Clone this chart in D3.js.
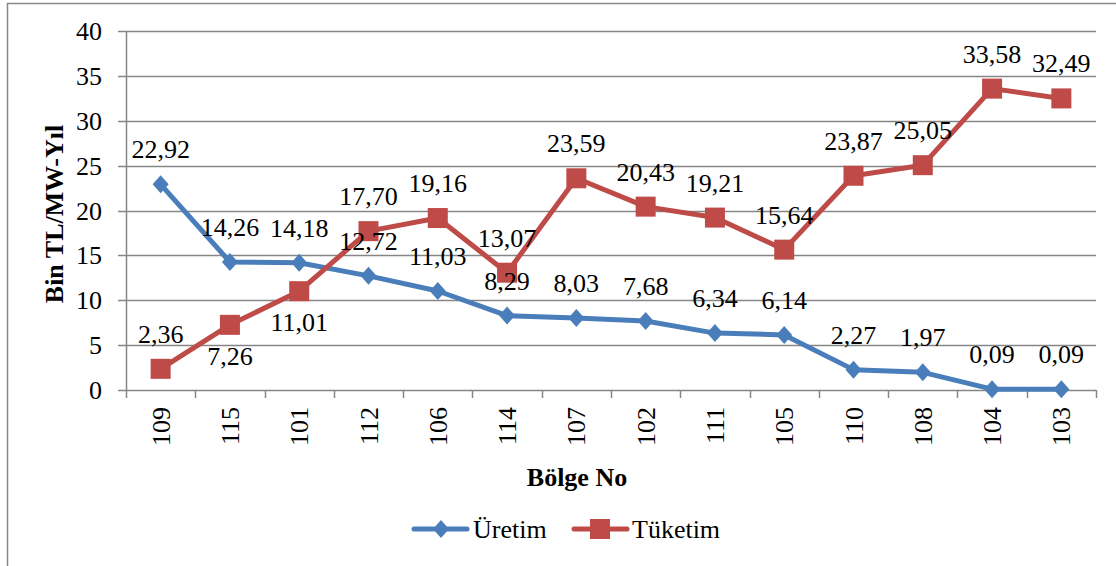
<!DOCTYPE html>
<html><head><meta charset="utf-8">
<script src="https://cdn.jsdelivr.net/npm/d3@7"></script>
<style>body{margin:0;background:#fff}svg{display:block}</style>
</head><body><svg id="c" width="1116" height="566"></svg>
<script>
const categories = ["109","115","101","112","106","114","107","102","111","105","110","108","104","103"];
const uretim = [22.92,14.26,14.18,12.72,11.03,8.29,8.03,7.68,6.34,6.14,2.27,1.97,0.09,0.09];
const tuketim = [2.36,7.26,11.01,17.70,19.16,13.07,23.59,20.43,19.21,15.64,23.87,25.05,33.58,32.49];
const tuketimBelow = ["115","101"];
const yTicks = [0,5,10,15,20,25,30,35,40];
const seriesNames = ["Üretim","Tüketim"];

const svg = d3.select("#c");
const L=126, R=1096, T=31, B=390;
const blue="#4A7EBB", red="#BE4B48";
const FS = 26;

function txt(px,py,s,o={}){
  const t = svg.append("text")
    .attr("text-anchor",o.anchor||"middle")
    .style("font-family","Liberation Serif")
    .style("font-size",(o.size||FS)+"px")
    .style("fill","#000")
    .text(s);
  if(o.bold) t.style("font-weight","bold");
  if(o.rot) t.attr("transform",`translate(${px},${py}) rotate(${o.rot})`);
  else t.attr("x",px).attr("y",py);
  return t;
}

svg.append("path").attr("d","M7.5,570V3.5H1120").attr("fill","none").attr("stroke","#888").attr("stroke-width",1.5);

const x = d3.scaleBand().domain(categories).range([L,R]).padding(0);
const y = d3.scaleLinear().domain([0,40]).range([B,T]);

svg.append("g").selectAll("line").data(yTicks).join("line")
  .attr("x1",L-8).attr("x2",R).attr("y1",d=>Math.round(y(d))+0.5).attr("y2",d=>Math.round(y(d))+0.5)
  .attr("stroke","#868686").attr("stroke-width",1.5);
svg.append("line").attr("x1",L+0.5).attr("x2",L+0.5).attr("y1",T).attr("y2",B).attr("stroke","#868686").attr("stroke-width",1.5);
const bounds = categories.map(c=>x(c)).concat([R]);
svg.append("g").selectAll("line").data(bounds).join("line")
  .attr("x1",d=>Math.round(d)+0.5).attr("x2",d=>Math.round(d)+0.5).attr("y1",B).attr("y2",B+8)
  .attr("stroke","#868686").attr("stroke-width",1.5);

yTicks.forEach(d=>txt(102,y(d)+9,String(d),{anchor:"end"}));
const cx = d=>x(d)+x.bandwidth()/2;
categories.forEach(c=>txt(cx(c)+9,407,c,{anchor:"end",rot:-90}));

txt(63,214,"Bin TL/MW-Yıl",{rot:-90,bold:true,size:26});
txt(577,486,"Bölge No",{bold:true,size:26});

const line = d3.line().x((d,i)=>cx(categories[i])).y(d=>y(d));
function fmt(v){return v.toFixed(2).replace(".",",");}
const diamond = "M0,-9L8,0L0,9L-8,0Z";

svg.append("path").datum(uretim).attr("d",line).attr("fill","none").attr("stroke",blue).attr("stroke-width",5).attr("stroke-linejoin","round");
svg.append("g").selectAll("path").data(uretim).join("path")
  .attr("d",diamond)
  .attr("transform",(d,i)=>`translate(${cx(categories[i])},${y(d)})`).attr("fill",blue);
svg.append("path").datum(tuketim).attr("d",line).attr("fill","none").attr("stroke",red).attr("stroke-width",5).attr("stroke-linejoin","round");
svg.append("g").selectAll("rect").data(tuketim).join("rect")
  .attr("x",(d,i)=>cx(categories[i])-10).attr("y",d=>y(d)-10).attr("width",20).attr("height",20).attr("fill",red);

uretim.forEach((d,i)=>txt(cx(categories[i]),y(d)-26,fmt(d)));
tuketim.forEach((d,i)=>txt(cx(categories[i]),tuketimBelow.includes(categories[i])? y(d)+40 : y(d)-26,fmt(d)));

const ly = 529;
svg.append("line").attr("x1",414).attr("x2",467).attr("y1",ly).attr("y2",ly).attr("stroke",blue).attr("stroke-width",5).attr("stroke-linecap","round");
svg.append("path").attr("d",diamond).attr("transform",`translate(441,${ly})`).attr("fill",blue);
txt(473,ly+9,seriesNames[0],{anchor:"start"});
svg.append("line").attr("x1",574).attr("x2",627).attr("y1",ly).attr("y2",ly).attr("stroke",red).attr("stroke-width",5).attr("stroke-linecap","round");
svg.append("rect").attr("x",590).attr("y",ly-10).attr("width",20).attr("height",20).attr("fill",red);
txt(632,ly+9,seriesNames[1],{anchor:"start"});
</script></body></html>
